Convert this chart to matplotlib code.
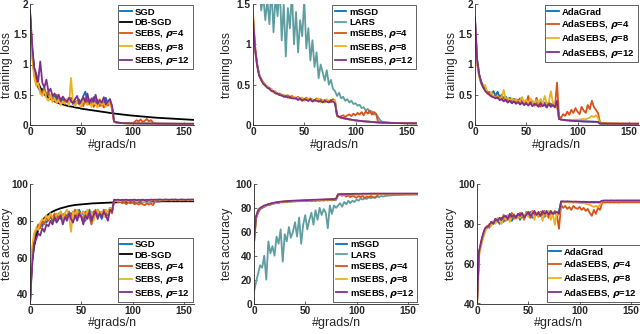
import matplotlib
matplotlib.use('Agg')
import matplotlib.pyplot as plt
from matplotlib.ticker import FormatStrFormatter

plt.rcParams['font.family'] = ['Liberation Sans', 'DejaVu Sans']
plt.rcParams['font.weight'] = 'bold'
plt.rcParams['mathtext.fontset'] = 'dejavusans'

# x axis: #grads/n, sampled every 2
epochs = list(range(0, 161, 2))

# ---- top-left: training loss, SGD family ----
tl_sgd = [1.80, 1.20, 0.85, 0.68, 0.62, 0.55, 0.60, 0.50, 0.47, 0.52,
          0.45, 0.42, 0.48, 0.40, 0.44, 0.38, 0.43, 0.36, 0.40, 0.37,
          0.45, 0.34, 0.39, 0.36, 0.42, 0.35, 0.48, 0.55, 0.38, 0.42,
          0.33, 0.46, 0.38, 0.35, 0.40, 0.32, 0.37, 0.45, 0.33, 0.38,
          0.30, 0.06, 0.045, 0.04, 0.035, 0.033, 0.03, 0.03, 0.029, 0.028,
          0.028, 0.027, 0.027, 0.026, 0.026, 0.025, 0.025, 0.025, 0.024, 0.024,
          0.024, 0.023, 0.023, 0.023, 0.022, 0.022, 0.022, 0.022, 0.021, 0.021,
          0.021, 0.021, 0.02, 0.02, 0.02, 0.02, 0.02, 0.02, 0.02, 0.02,
          0.02]
tl_db = [1.85, 1.25, 0.95, 0.80, 0.70, 0.62, 0.56, 0.52, 0.48, 0.45,
         0.43, 0.41, 0.39, 0.375, 0.36, 0.35, 0.34, 0.33, 0.32, 0.31,
         0.305, 0.30, 0.29, 0.285, 0.28, 0.27, 0.265, 0.26, 0.255, 0.25,
         0.245, 0.24, 0.235, 0.23, 0.225, 0.22, 0.215, 0.21, 0.205, 0.20,
         0.195, 0.19, 0.186, 0.182, 0.178, 0.174, 0.17, 0.166, 0.162, 0.158,
         0.155, 0.152, 0.149, 0.146, 0.143, 0.14, 0.137, 0.134, 0.131, 0.128,
         0.125, 0.122, 0.12, 0.118, 0.116, 0.114, 0.112, 0.11, 0.108, 0.106,
         0.104, 0.102, 0.10, 0.098, 0.096, 0.094, 0.092, 0.09, 0.088, 0.086,
         0.085]
tl_s4 = [1.88, 1.30, 0.90, 0.72, 0.65, 0.58, 0.52, 0.62, 0.50, 0.55,
         0.43, 0.46, 0.40, 0.50, 0.38, 0.44, 0.36, 0.41, 0.39, 0.35,
         0.42, 0.37, 0.33, 0.40, 0.35, 0.38, 0.31, 0.44, 0.36, 0.34,
         0.40, 0.30, 0.36, 0.42, 0.31, 0.37, 0.29, 0.35, 0.32, 0.36,
         0.28, 0.05, 0.04, 0.035, 0.033, 0.03, 0.03, 0.028, 0.028, 0.027,
         0.03, 0.05, 0.08, 0.06, 0.09, 0.05, 0.07, 0.10, 0.06, 0.08,
         0.04, 0.025, 0.024, 0.023, 0.023, 0.022, 0.022, 0.022, 0.021, 0.021,
         0.021, 0.021, 0.02, 0.02, 0.02, 0.02, 0.02, 0.02, 0.02, 0.02,
         0.02]
tl_s8 = [1.75, 1.15, 0.80, 0.65, 0.70, 0.52, 0.48, 0.56, 0.45, 0.40,
         0.50, 0.38, 0.45, 0.36, 0.42, 0.33, 0.39, 0.35, 0.43, 0.32,
         0.78, 0.36, 0.31, 0.40, 0.34, 0.30, 0.45, 0.37, 0.33, 0.41,
         0.30, 0.38, 0.34, 0.29, 0.43, 0.33, 0.36, 0.30, 0.39, 0.34,
         0.29, 0.05, 0.04, 0.035, 0.032, 0.03, 0.03, 0.028, 0.027, 0.027,
         0.026, 0.026, 0.025, 0.025, 0.025, 0.024, 0.024, 0.024, 0.023, 0.023,
         0.023, 0.022, 0.022, 0.022, 0.022, 0.021, 0.021, 0.021, 0.021, 0.02,
         0.02, 0.02, 0.02, 0.02, 0.02, 0.02, 0.019, 0.019, 0.019, 0.019,
         0.019]
tl_s12 = [1.90, 1.35, 0.95, 0.85, 0.72, 1.05, 0.70, 0.62, 0.75, 0.55,
          0.60, 0.48, 0.52, 0.44, 0.50, 0.40, 0.47, 0.42, 0.38, 0.45,
          0.40, 0.36, 0.43, 0.48, 0.35, 0.40, 0.46, 0.38, 0.52, 0.36,
          0.44, 0.38, 0.50, 0.35, 0.41, 0.37, 0.46, 0.34, 0.39, 0.43,
          0.32, 0.06, 0.045, 0.04, 0.035, 0.032, 0.03, 0.03, 0.029, 0.028,
          0.027, 0.027, 0.026, 0.026, 0.025, 0.025, 0.025, 0.024, 0.024, 0.024,
          0.023, 0.023, 0.023, 0.022, 0.022, 0.022, 0.021, 0.021, 0.021, 0.021,
          0.021, 0.02, 0.02, 0.02, 0.02, 0.02, 0.02, 0.02, 0.02, 0.02,
          0.02]

# ---- bottom-left: test accuracy, SGD family ----
bl_sgd = [36, 62, 70, 74, 76, 78, 77, 80, 79, 81,
          82, 80, 83, 82, 84, 81, 83, 84, 82, 85,
          83, 85, 82, 84, 86, 83, 85, 80, 84, 86,
          82, 85, 83, 86, 84, 81, 85, 86, 83, 87,
          85, 91, 91, 90.5, 91, 90.5, 91, 90.8, 91, 90.6,
          91, 90.8, 91, 90.5, 91, 90.7, 91, 90.8, 90.6, 91,
          91, 91.2, 91, 91.3, 91.1, 91.2, 91.3, 91.1, 91.2, 91.3,
          91.2, 91.3, 91.1, 91.3, 91.2, 91.3, 91.2, 91.3, 91.2, 91.3,
          91.3]
bl_db = [35, 58, 66, 71, 75, 78, 80, 81.5, 82.5, 83.5,
         84.3, 85, 85.5, 86, 86.4, 86.8, 87.1, 87.4, 87.7, 88,
         88.2, 88.4, 88.6, 88.7, 88.8, 88.9, 89, 89.1, 89.2, 89.3,
         89.4, 89.5, 89.5, 89.6, 89.6, 89.7, 89.7, 89.8, 89.8, 89.9,
         89.9, 90, 90, 90.1, 90.1, 90.2, 90.2, 90.3, 90.3, 90.3,
         90.4, 90.4, 90.4, 90.4, 90.4, 90.5, 90.5, 90.5, 90.5, 90.5,
         90.5, 90.5, 90.5, 90.5, 90.6, 90.6, 90.6, 90.6, 90.6, 90.6,
         90.6, 90.6, 90.6, 90.6, 90.6, 90.6, 90.6, 90.6, 90.6, 90.6,
         90.6]
bl_s4 = [35, 60, 72, 75, 78, 76, 80, 78, 82, 80,
         83, 81, 84, 80, 83, 85, 82, 84, 81, 85,
         82, 84, 86, 82, 85, 83, 80, 85, 84, 82,
         78, 84, 86, 82, 85, 83, 86, 82, 85, 86,
         84, 90.5, 91, 90, 90.5, 89.5, 90, 89, 90, 89.5,
         90, 89, 89.5, 88.8, 89.5, 89, 88.5, 89.5, 88.8, 89.5,
         88.5, 90.5, 91, 90.8, 91, 91.2, 91, 91.2, 91.1, 91,
         91.2, 91.1, 91.2, 91, 91.2, 91.1, 91.2, 91, 91.2, 91.1,
         91.2]
bl_s8 = [35, 65, 73, 76, 75, 79, 81, 80, 83, 81,
         84, 82, 80, 84, 83, 85, 81, 84, 86, 83,
         74, 85, 83, 86, 82, 84, 85, 81, 86, 83,
         85, 80, 84, 86, 83, 85, 82, 86, 84, 87,
         86, 91, 90.8, 91, 90.5, 91, 90.8, 91, 90.6, 91,
         90.8, 91, 90.5, 90.8, 91, 90.6, 90.8, 91, 90.7, 90.9,
         91, 91.2, 91.1, 91.3, 91.2, 91.1, 91.3, 91.2, 91.3, 91.2,
         91.3, 91.2, 91.3, 91.2, 91.3, 91.2, 91.3, 91.2, 91.3, 91.2,
         91.3]
bl_s12 = [35, 55, 68, 70, 73, 72, 76, 74, 78, 77,
          80, 78, 82, 79, 81, 83, 78, 82, 80, 84,
          81, 79, 83, 80, 84, 82, 78, 83, 81, 85,
          80, 83, 85, 81, 84, 82, 85, 83, 80, 86,
          85, 91.5, 91.3, 91.5, 91.2, 91.4, 91.3, 91.5, 91.2, 91.4,
          91.3, 91.5, 91.2, 91.4, 91.3, 91.5, 91.2, 91.4, 91.3, 91.5,
          91.4, 91.5, 91.4, 91.6, 91.5, 91.4, 91.6, 91.5, 91.4, 91.6,
          91.5, 91.6, 91.4, 91.5, 91.6, 91.5, 91.4, 91.6, 91.5, 91.6,
          91.5]

# ---- top-middle: training loss, momentum family ----
tm_msgd = [1.32, 0.95, 0.75, 0.62, 0.56, 0.52, 0.49, 0.47, 0.45, 0.43,
           0.42, 0.40, 0.39, 0.38, 0.37, 0.36, 0.35, 0.36, 0.34, 0.35,
           0.33, 0.34, 0.32, 0.33, 0.31, 0.32, 0.33, 0.31, 0.32, 0.30,
           0.31, 0.32, 0.30, 0.31, 0.29, 0.31, 0.30, 0.29, 0.31, 0.30,
           0.29, 0.12, 0.10, 0.09, 0.085, 0.08, 0.075, 0.07, 0.065, 0.06,
           0.057, 0.054, 0.051, 0.048, 0.046, 0.044, 0.042, 0.04, 0.038, 0.036,
           0.034, 0.032, 0.031, 0.03, 0.029, 0.028, 0.027, 0.026, 0.025, 0.025,
           0.024, 0.024, 0.023, 0.023, 0.022, 0.022, 0.022, 0.021, 0.021, 0.021,
           0.021]
tm_lars = [2.5, 2.2, 2.0, 1.8, 1.42, 1.60, 1.30, 1.55, 1.25, 1.70,
           1.15, 1.60, 1.35, 1.75, 1.05, 1.50, 0.85, 1.45, 1.20, 1.65,
           1.00, 1.40, 0.90, 1.30, 1.10, 1.55, 0.95, 1.20, 0.80, 1.05,
           0.72, 0.90, 0.58, 0.75, 0.65, 0.55, 0.68, 0.50, 0.56, 0.45,
           0.42, 0.36, 0.40, 0.33, 0.35, 0.30, 0.32, 0.28, 0.30, 0.26,
           0.27, 0.24, 0.25, 0.21, 0.22, 0.18, 0.20, 0.15, 0.17, 0.13,
           0.14, 0.10, 0.06, 0.04, 0.035, 0.03, 0.03, 0.028, 0.027, 0.026,
           0.025, 0.025, 0.024, 0.024, 0.023, 0.023, 0.022, 0.022, 0.022, 0.021,
           0.021]
tm_s4 = [1.38, 0.98, 0.76, 0.63, 0.57, 0.53, 0.50, 0.47, 0.46, 0.44,
         0.41, 0.41, 0.38, 0.39, 0.36, 0.37, 0.35, 0.37, 0.33, 0.36,
         0.34, 0.33, 0.35, 0.32, 0.33, 0.31, 0.34, 0.30, 0.33, 0.31,
         0.30, 0.33, 0.29, 0.32, 0.30, 0.28, 0.31, 0.30, 0.28, 0.32,
         0.30, 0.11, 0.10, 0.11, 0.12, 0.10, 0.12, 0.13, 0.11, 0.14,
         0.12, 0.15, 0.13, 0.16, 0.12, 0.17, 0.14, 0.18, 0.13, 0.16,
         0.14, 0.04, 0.032, 0.03, 0.029, 0.028, 0.027, 0.026, 0.025, 0.025,
         0.024, 0.024, 0.023, 0.023, 0.022, 0.022, 0.022, 0.021, 0.021, 0.021,
         0.021]
tm_s8 = [1.38, 0.92, 0.74, 0.63, 0.55, 0.53, 0.48, 0.48, 0.44, 0.45,
         0.40, 0.42, 0.38, 0.37, 0.38, 0.35, 0.37, 0.34, 0.36, 0.33,
         0.35, 0.32, 0.34, 0.31, 0.34, 0.30, 0.32, 0.33, 0.30, 0.32,
         0.29, 0.31, 0.33, 0.28, 0.31, 0.29, 0.32, 0.28, 0.30, 0.29,
         0.31, 0.11, 0.095, 0.088, 0.082, 0.078, 0.072, 0.068, 0.063, 0.059,
         0.056, 0.053, 0.05, 0.047, 0.045, 0.043, 0.041, 0.039, 0.037, 0.035,
         0.033, 0.031, 0.03, 0.029, 0.028, 0.027, 0.026, 0.026, 0.025, 0.025,
         0.024, 0.024, 0.023, 0.023, 0.022, 0.022, 0.022, 0.021, 0.021, 0.021,
         0.021]
tm_s12 = [1.30, 0.94, 0.74, 0.61, 0.56, 0.51, 0.49, 0.46, 0.45, 0.42,
          0.42, 0.39, 0.39, 0.37, 0.37, 0.35, 0.36, 0.34, 0.35, 0.33,
          0.33, 0.33, 0.31, 0.33, 0.30, 0.32, 0.31, 0.30, 0.32, 0.29,
          0.31, 0.30, 0.29, 0.30, 0.28, 0.30, 0.29, 0.28, 0.30, 0.29,
          0.27, 0.12, 0.10, 0.092, 0.086, 0.08, 0.075, 0.07, 0.066, 0.062,
          0.058, 0.055, 0.052, 0.049, 0.046, 0.044, 0.042, 0.04, 0.038, 0.036,
          0.034, 0.032, 0.031, 0.03, 0.029, 0.028, 0.027, 0.026, 0.025, 0.025,
          0.024, 0.024, 0.023, 0.023, 0.022, 0.022, 0.022, 0.021, 0.021, 0.021,
          0.021]

# ---- bottom-middle: test accuracy, momentum family ----
bm_msgd = [52, 72, 77, 79, 80, 81, 82, 82.5, 83, 83.5,
           84, 84, 84.5, 84.8, 85, 85, 85.3, 85.2, 85.5, 85.4,
           85.6, 85.5, 85.8, 85.6, 86, 85.8, 86, 86.1, 85.9, 86.2,
           86, 86.3, 86.1, 86.4, 86.2, 86.5, 86.3, 86.6, 86.4, 86.7,
           86.8, 91, 91, 91.1, 91.1, 91.2, 91.2, 91.2, 91.3, 91.3,
           91.3, 91.3, 91.4, 91.4, 91.4, 91.4, 91.5, 91.5, 91.5, 91.5,
           91.5, 91.6, 91.6, 91.6, 91.6, 91.6, 91.6, 91.7, 91.7, 91.7,
           91.7, 91.7, 91.7, 91.7, 91.7, 91.7, 91.7, 91.7, 91.7, 91.7,
           91.7]
bm_lars = [10, 18, 25, 32, 30, 40, 20, 52, 42, 48,
           40, 56, 50, 62, 35, 58, 52, 64, 55, 60,
           68, 56, 72, 50, 66, 74, 62, 70, 76, 66,
           78, 70, 80, 74, 79, 76, 63, 82, 75, 82,
           80, 82, 84, 81, 85, 83, 86, 84, 86, 85,
           87, 86, 88, 87, 88, 87.5, 89, 88, 89, 88.5,
           89.5, 89, 90, 89.5, 90, 90.2, 90.4, 90.5, 90.6, 90.7,
           90.8, 90.8, 90.9, 90.9, 91, 91, 91, 91, 91.1, 91.1,
           91.1]
bm_s4 = [50, 71, 76, 79, 80.5, 81, 82, 83, 82.5, 84,
         83.5, 84.5, 84, 85, 84.5, 85.5, 85, 85.5, 85.2, 86,
         85.4, 86, 85.5, 86.2, 85.7, 86.3, 85.8, 86.4, 86, 86.5,
         86.2, 86.6, 86.3, 86.8, 86.4, 86.9, 86.5, 87, 86.6, 87.1,
         87, 90.5, 91, 90.2, 90.8, 89.5, 90.5, 89, 90.2, 89.5,
         88.5, 89.8, 89, 90, 88.2, 89.5, 88.8, 90, 89, 88.5,
         90, 91.5, 91.6, 91.6, 91.6, 91.6, 91.7, 91.7, 91.7, 91.7,
         91.7, 91.7, 91.7, 91.7, 91.7, 91.7, 91.7, 91.7, 91.7, 91.7,
         91.7]
bm_s8 = [50, 72, 78, 79.5, 81, 81.5, 82.5, 83, 83.5, 84,
         84, 84.5, 84.8, 85, 85.2, 85.3, 85.4, 85.5, 85.5, 85.7,
         85.8, 85.9, 86, 86, 86.1, 86.2, 86.2, 86.3, 86.4, 86.4,
         86.5, 86.6, 86.6, 86.7, 86.8, 86.8, 86.9, 87, 87, 87.2,
         87.3, 91, 91, 91.1, 91.1, 91.1, 91.2, 91.2, 91.2, 91.3,
         91.3, 91.3, 91.3, 91.4, 91.4, 91.4, 91.4, 91.5, 91.5, 91.5,
         91.5, 91.6, 91.6, 91.6, 91.6, 91.6, 91.6, 91.7, 91.7, 91.7,
         91.7, 91.7, 91.7, 91.7, 91.7, 91.7, 91.7, 91.7, 91.7, 91.7,
         91.7]
bm_s12 = [53, 73, 78, 80, 81, 82, 82.5, 83.2, 83.6, 84.1,
          84.4, 84.8, 85, 85.2, 85.4, 85.5, 85.7, 85.8, 85.9, 86,
          86.1, 86.2, 86.2, 86.3, 86.4, 86.5, 86.5, 86.6, 86.7, 86.8,
          86.8, 86.9, 87, 87, 87.1, 87.2, 87.3, 87.3, 87.4, 87.5,
          87.6, 91.5, 91.5, 91.6, 91.6, 91.6, 91.7, 91.7, 91.7, 91.8,
          91.8, 91.8, 91.8, 91.9, 91.9, 91.9, 91.9, 92, 92, 92,
          92, 92, 92, 92, 92, 92, 92, 92, 92, 92,
          92, 92, 92, 92, 92, 92, 92, 92, 92, 92,
          92]

# ---- top-right: training loss, AdaGrad family ----
tr_ada = [1.75, 1.10, 0.85, 0.72, 0.65, 0.60, 0.55, 0.52, 0.50, 0.56,
          0.48, 0.55, 0.46, 0.50, 0.44, 0.47, 0.42, 0.45, 0.40, 0.43,
          0.41, 0.38, 0.44, 0.37, 0.40, 0.35, 0.42, 0.36, 0.39, 0.34,
          0.38, 0.33, 0.40, 0.35, 0.37, 0.32, 0.38, 0.33, 0.36, 0.31,
          0.34, 0.10, 0.09, 0.085, 0.08, 0.078, 0.075, 0.072, 0.07, 0.068,
          0.066, 0.064, 0.062, 0.06, 0.059, 0.058, 0.056, 0.055, 0.054, 0.053,
          0.052, 0.02, 0.02, 0.02, 0.02, 0.019, 0.019, 0.019, 0.019, 0.019,
          0.018, 0.018, 0.018, 0.018, 0.018, 0.018, 0.018, 0.018, 0.018, 0.018,
          0.018]
tr_s4 = [1.72, 1.05, 0.82, 0.70, 0.62, 0.58, 0.52, 0.55, 0.48, 0.46,
         0.50, 0.44, 0.47, 0.42, 0.45, 0.40, 0.38, 0.43, 0.36, 0.40,
         0.37, 0.42, 0.34, 0.39, 0.33, 0.36, 0.48, 0.34, 0.40, 0.32,
         0.45, 0.35, 0.30, 0.38, 0.33, 0.29, 0.36, 0.31, 0.34, 0.30,
         0.70, 0.14, 0.12, 0.18, 0.15, 0.22, 0.17, 0.25, 0.20, 0.28,
         0.22, 0.18, 0.30, 0.24, 0.20, 0.33, 0.26, 0.40, 0.30, 0.25,
         0.20, 0.04, 0.035, 0.03, 0.03, 0.028, 0.03, 0.027, 0.028, 0.026,
         0.027, 0.026, 0.026, 0.025, 0.025, 0.025, 0.024, 0.024, 0.024, 0.024,
         0.024]
tr_s8 = [1.65, 1.00, 0.80, 0.68, 0.63, 0.66, 0.52, 0.50, 0.54, 0.47,
         0.45, 0.48, 0.43, 0.46, 0.58, 0.42, 0.45, 0.40, 0.44, 0.39,
         0.43, 0.37, 0.41, 0.46, 0.38, 0.42, 0.36, 0.44, 0.39, 0.35,
         0.41, 0.36, 0.43, 0.34, 0.48, 0.35, 0.38, 0.56, 0.36, 0.33,
         0.30, 0.10, 0.09, 0.085, 0.08, 0.082, 0.078, 0.08, 0.085, 0.09,
         0.085, 0.09, 0.095, 0.10, 0.09, 0.11, 0.12, 0.15, 0.13, 0.16,
         0.12, 0.025, 0.024, 0.023, 0.023, 0.022, 0.022, 0.022, 0.021, 0.021,
         0.021, 0.02, 0.02, 0.02, 0.02, 0.02, 0.02, 0.02, 0.02, 0.02,
         0.02]
tr_s12 = [1.78, 1.08, 0.84, 0.70, 0.62, 0.56, 0.53, 0.50, 0.47, 0.46,
          0.44, 0.46, 0.41, 0.43, 0.39, 0.42, 0.37, 0.40, 0.36, 0.39,
          0.35, 0.38, 0.34, 0.37, 0.33, 0.36, 0.32, 0.37, 0.31, 0.35,
          0.33, 0.30, 0.36, 0.31, 0.34, 0.29, 0.35, 0.30, 0.33, 0.29,
          0.40, 0.10, 0.09, 0.085, 0.08, 0.077, 0.074, 0.071, 0.068, 0.066,
          0.064, 0.062, 0.06, 0.058, 0.057, 0.056, 0.055, 0.054, 0.053, 0.052,
          0.05, 0.025, 0.024, 0.023, 0.023, 0.022, 0.022, 0.022, 0.021, 0.021,
          0.021, 0.02, 0.02, 0.02, 0.02, 0.02, 0.02, 0.02, 0.02, 0.02,
          0.02]

# ---- bottom-right: test accuracy, AdaGrad family ----
br_ada = [40, 66, 70, 74, 77, 78, 79, 80, 80.5, 81,
          82, 80, 83, 81, 84, 82, 83.5, 81.5, 84, 83,
          85, 82, 84.5, 83, 85.5, 84, 86, 83, 85, 84.5,
          86, 84, 85.5, 83.5, 86.5, 85, 86, 84.5, 86, 85,
          86.5, 91, 91.1, 91, 91.1, 91, 91, 90.9, 91, 90.9,
          90.9, 90.8, 90.9, 90.8, 90.8, 90.7, 90.8, 90.7, 90.8, 90.7,
          90.8, 91.5, 91.5, 91.6, 91.5, 91.6, 91.6, 91.5, 91.6, 91.6,
          91.6, 91.6, 91.6, 91.6, 91.6, 91.6, 91.6, 91.6, 91.6, 91.6,
          91.6]
br_s4 = [38, 65, 71, 75, 77.5, 79, 78, 81, 80, 82.5,
         81, 83, 82, 84.5, 81.5, 84, 83, 85.5, 82.5, 84,
         83, 85.5, 84, 82, 86, 84.5, 83, 86.5, 84, 85.5,
         83.5, 86, 84.5, 86.5, 85, 83, 86, 85, 86.5, 84,
         77.5, 89.5, 88, 89, 87.5, 88.5, 87, 89, 88, 87.5,
         88.5, 87, 88, 86.5, 87.5, 85.5, 84, 87, 85, 88,
         87, 90.5, 90.8, 90.7, 90.8, 90.7, 90.8, 90.7, 90.8, 90.7,
         90.8, 90.8, 90.8, 90.8, 90.8, 90.8, 90.8, 90.8, 90.8, 90.8,
         90.8]
br_s8 = [39, 64, 69, 73, 76, 78.5, 80, 79, 81.5, 80,
         83, 81.5, 80, 83.5, 82, 84.5, 81, 83.5, 85, 82.5,
         84, 83, 85, 82.5, 85.5, 83.5, 84.5, 86, 82, 85.5,
         84, 85.5, 81.5, 86, 84, 86.5, 82, 85, 79.5, 86,
         84, 90.8, 90.9, 90.8, 90.9, 90.7, 90.8, 90.6, 90.7, 90.5,
         90.5, 90.3, 90.4, 90.1, 89.8, 89.5, 89, 88.5, 89, 88.5,
         89.5, 91.4, 91.5, 91.4, 91.5, 91.5, 91.4, 91.5, 91.5, 91.4,
         91.5, 91.5, 91.5, 91.5, 91.5, 91.5, 91.5, 91.5, 91.5, 91.5,
         91.5]
br_s12 = [40, 66, 71, 75, 78, 78.5, 79.5, 81, 80, 82.5,
          81.5, 83, 82, 83.5, 84, 82.5, 85, 83.5, 84.5, 83,
          85, 84, 85.5, 83, 84.5, 86, 84, 85, 86.5, 84.5,
          85.5, 84, 86.5, 85, 86, 84.5, 86.5, 85, 85.5, 86,
          85, 91.3, 91.3, 91.2, 91.3, 91.2, 91.2, 91.1, 91.2, 91.1,
          91.1, 91, 91.1, 91, 91, 90.9, 91, 90.9, 91, 90.9,
          91, 91.6, 91.7, 91.7, 91.7, 91.7, 91.7, 91.7, 91.7, 91.7,
          91.7, 91.7, 91.7, 91.7, 91.7, 91.7, 91.7, 91.7, 91.7, 91.7,
          91.7]

BLUE = '#0072BD'
ORANGE = '#D95319'
YELLOW = '#EDB120'
PURPLE = '#7E2F8E'
TEAL = '#5F9EA0'
AXC = '#262626'
W, H = 640.0, 334.0

fig = plt.figure(figsize=(6.4, 3.34), dpi=100)


def make_axes(px_left, px_top, px_bottom, px_width=164):
    return fig.add_axes([px_left / W, (H - px_bottom) / H,
                         px_width / W, (px_bottom - px_top) / H])


def style(ax, ylim, yticks, ylabel, ylab_off):
    ax.set_xlim(0, 160)
    ax.set_ylim(*ylim)
    ax.set_xticks([0, 50, 100, 150])
    ax.set_yticks(yticks)
    ax.yaxis.set_major_formatter(FormatStrFormatter('%g'))
    for s in ['top', 'right']:
        ax.spines[s].set_visible(False)
    for s in ['left', 'bottom']:
        ax.spines[s].set_color(AXC)
        ax.spines[s].set_linewidth(0.6)
    ax.tick_params(direction='in', length=2.5, width=0.5, labelsize=7.3,
                   pad=1.6, colors=AXC)
    ax.set_xlabel('#grads/n', fontsize=9, labelpad=1, color=AXC)
    ax.set_ylabel(ylabel, fontsize=8.8, color=AXC)
    # right edge of the rotated label, in pixels left of the spine
    ax.yaxis.set_label_coords(-ylab_off / 164.0, 0.5)


def add_legend(ax, loc):
    leg = ax.legend(loc=loc, fontsize=6.8, handlelength=1.2, handletextpad=0.3,
                    labelspacing=0.14, borderpad=0.25, borderaxespad=0.15,
                    fancybox=False, edgecolor=AXC, framealpha=1)
    leg.get_frame().set_linewidth(0.5)


LW = 1.3
rho = '$\\rho$'

# top-left
ax = make_axes(30, 4, 125)
ax.plot(epochs, tl_sgd, color=BLUE, lw=LW, label='SGD')
ax.plot(epochs, tl_db, color='black', lw=LW, label='DB-SGD')
ax.plot(epochs, tl_s4, color=ORANGE, lw=LW, label='SEBS, ' + rho + '=4')
ax.plot(epochs, tl_s8, color=YELLOW, lw=LW, label='SEBS, ' + rho + '=8')
ax.plot(epochs, tl_s12, color=PURPLE, lw=LW, label='SEBS, ' + rho + '=12')
style(ax, (0, 2), [0, 0.5, 1, 1.5, 2], 'training loss', 17)
add_legend(ax, 'upper right')

# top-middle
ax = make_axes(253, 4, 125)
ax.plot(epochs, tm_msgd, color=BLUE, lw=LW, label='mSGD')
ax.plot(epochs, tm_lars, color=TEAL, lw=LW, label='LARS')
ax.plot(epochs, tm_s4, color=ORANGE, lw=LW, label='mSEBS, ' + rho + '=4')
ax.plot(epochs, tm_s8, color=YELLOW, lw=LW, label='mSEBS, ' + rho + '=8')
ax.plot(epochs, tm_s12, color=PURPLE, lw=LW, label='mSEBS, ' + rho + '=12')
style(ax, (0, 1.5), [0, 0.5, 1, 1.5], 'training loss', 20)
add_legend(ax, 'upper right')

# top-right
ax = make_axes(475, 4, 125)
ax.plot(epochs, tr_ada, color=BLUE, lw=LW, label='AdaGrad')
ax.plot(epochs, tr_s4, color=ORANGE, lw=LW, label='AdaSEBS, ' + rho + '=4')
ax.plot(epochs, tr_s8, color=YELLOW, lw=LW, label='AdaSEBS, ' + rho + '=8')
ax.plot(epochs, tr_s12, color=PURPLE, lw=LW, label='AdaSEBS, ' + rho + '=12')
style(ax, (0, 2), [0, 0.5, 1, 1.5, 2], 'training loss', 17)
add_legend(ax, 'upper right')

# bottom-left
ax = make_axes(30, 184, 303.5)
ax.plot(epochs, bl_sgd, color=BLUE, lw=LW, label='SGD')
ax.plot(epochs, bl_db, color='black', lw=LW, label='DB-SGD')
ax.plot(epochs, bl_s4, color=ORANGE, lw=LW, label='SEBS, ' + rho + '=4')
ax.plot(epochs, bl_s8, color=YELLOW, lw=LW, label='SEBS, ' + rho + '=8')
ax.plot(epochs, bl_s12, color=PURPLE, lw=LW, label='SEBS, ' + rho + '=12')
style(ax, (35, 100), [40, 60, 80, 100], 'test accuracy', 17)
add_legend(ax, 'lower right')

# bottom-middle
ax = make_axes(254, 184, 303.5)
ax.plot(epochs, bm_msgd, color=BLUE, lw=LW, label='mSGD')
ax.plot(epochs, bm_lars, color=TEAL, lw=LW, label='LARS')
ax.plot(epochs, bm_s4, color=ORANGE, lw=LW, label='mSEBS, ' + rho + '=4')
ax.plot(epochs, bm_s8, color=YELLOW, lw=LW, label='mSEBS, ' + rho + '=8')
ax.plot(epochs, bm_s12, color=PURPLE, lw=LW, label='mSEBS, ' + rho + '=12')
style(ax, (0, 100), [0, 20, 40, 60, 80, 100], 'test accuracy', 21)
add_legend(ax, 'lower right')

# bottom-right
ax = make_axes(477, 184, 303.5)
ax.plot(epochs, br_ada, color=BLUE, lw=LW, label='AdaGrad')
ax.plot(epochs, br_s4, color=ORANGE, lw=LW, label='AdaSEBS, ' + rho + '=4')
ax.plot(epochs, br_s8, color=YELLOW, lw=LW, label='AdaSEBS, ' + rho + '=8')
ax.plot(epochs, br_s12, color=PURPLE, lw=LW, label='AdaSEBS, ' + rho + '=12')
style(ax, (40, 100), [40, 60, 80, 100], 'test accuracy', 20)
add_legend(ax, 'lower right')

fig.savefig('out.png', dpi=100)
